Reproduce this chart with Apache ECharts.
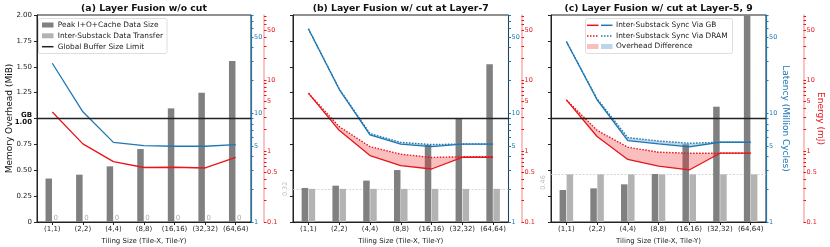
<!DOCTYPE html>
<html><head><meta charset="utf-8">
<script src="https://cdn.jsdelivr.net/npm/echarts@6.0.0/dist/echarts.min.js"></script>
<style>html,body{margin:0;padding:0;background:#fff}#c{width:830px;height:247px}</style>
</head><body><div id="c"></div>
<script>
const categories = ['(1,1)','(2,2)','(4,4)','(8,8)','(16,16)','(32,32)','(64,64)'];
const titles = ['(a) Layer Fusion w/o cut','(b) Layer Fusion w/ cut at Layer-7','(c) Layer Fusion w/ cut at Layer-5, 9'];

// Panel (a)
const peakA = [0.42, 0.457, 0.538, 0.705, 1.098, 1.249, 1.556];
const transferA = [0, 0, 0, 0, 0, 0, 0];
const latencyA = [28.8, 10.3, 5.4, 5.03, 4.97, 4.97, 5.14];
const energyA = [3.54, 1.26, 0.707, 0.585, 0.59, 0.576, 0.815];

// Panel (b)
const peakB = [0.329, 0.351, 0.40, 0.502, 0.744, 1.005, 1.524];
const transferB = [0.32, 0.32, 0.32, 0.32, 0.32, 0.32, 0.32];
const latencyGbB = [59.7, 16.6, 6.31, 5.19, 4.93, 5.21, 5.21];
const latencyDramB = [59.7, 16.8, 6.5, 5.4, 5.15, 5.21, 5.21];
const energyGbB = [6.5, 1.95, 0.86, 0.62, 0.557, 0.815, 0.815];
const energyDramB = [6.5, 2.2, 1.15, 0.9, 0.81, 0.83, 0.83];

// Panel (c)
const peakC = [0.309, 0.325, 0.364, 0.464, 0.75, 1.114, 2.3];
const transferC = [0.46, 0.46, 0.46, 0.46, 0.46, 0.46, 0.46];
const latencyGbC = [45.6, 13.3, 5.6, 5.22, 4.9, 5.41, 5.41];
const latencyDramC = [45.6, 13.6, 5.97, 5.56, 5.3, 5.41, 5.41];
const energyGbC = [5.23, 1.6, 0.76, 0.61, 0.54, 0.93, 0.93];
const energyDramC = [5.23, 1.95, 1.13, 0.96, 0.93, 0.93, 0.93];

// axis ticks / labels
const memLimit = 1.0;
const latencyLabels = [1, 5, 10, 50];
const latencyTicks = [1,2,3,4,5,6,7,8,9,10,20,30,40,50,60,70,80];
const energyLabels = [0.1, 0.5, 1, 5, 10, 50];
const energyTicks = [0.1,0.2,0.3,0.4,0.5,0.6,0.7,0.8,0.9,1,2,3,4,5,6,7,8,9,10,20,30,40,50,60,70,80];

const BLUE = '#1f77b4', RED = '#e8151b', DARK = '#808080', LIGHT = '#b3b3b3';
const FONT = 'DejaVu Sans';

const grids = [
  {left: 37, top: 15, width: 214, height: 207},
  {left: 293, top: 15, width: 215.5, height: 207},
  {left: 551, top: 15, width: 215, height: 207}
];

const xAxes = [], yAxes = [], series = [];
const refLines = [null, 0.32, 0.46];
const refLabelPad = [null, [0, 0, 0, 0], [0, 16, 0, 0]];
const panels = [
  {peak: peakA, transfer: transferA, latGb: latencyA, enGb: energyA},
  {peak: peakB, transfer: transferB, latGb: latencyGbB, latDram: latencyDramB, enGb: energyGbB, enDram: energyDramB},
  {peak: peakC, transfer: transferC, latGb: latencyGbC, latDram: latencyDramC, enGb: energyGbC, enDram: energyDramC}
];

function fillSeries(gi, yi, low, high, color) {
  return {
    type: 'custom', xAxisIndex: gi, yAxisIndex: yi, z: 3, silent: true,
    data: categories.map((c, k) => [k, low[k], high[k]]),
    encode: {x: 0, y: [1, 2]},
    renderItem: (params, api) => {
      if (params.dataIndex !== 0) return;
      const top = high.map((v, k) => api.coord([k, v]));
      const bot = low.map((v, k) => api.coord([k, v])).reverse();
      return {type: 'polygon', shape: {points: top.concat(bot)}, style: {fill: color}};
    }
  };
}

for (let i = 0; i < 3; i++) {
  const p = panels[i];
  xAxes.push({
    type: 'category', gridIndex: i, data: categories,
    axisLine: {show: true, lineStyle: {color: '#222', width: 1}},
    axisTick: {show: true, alignWithLabel: true, length: 3, lineStyle: {color: '#222'}},
    axisLabel: {fontSize: 7, color: '#222', margin: 3.5, interval: 0, fontFamily: FONT},
    name: 'Tiling Size (Tile-X, Tile-Y)', nameLocation: 'middle', nameGap: 12.5,
    nameTextStyle: {fontSize: 7, color: '#222', fontFamily: FONT},
    splitLine: {show: false}
  });
  const memLabel = i === 0 ? {
    fontSize: 7, color: '#222', margin: 5, fontFamily: FONT,
    formatter: v => v === 1 ? '{gb|GB}\n{n|1.00}' : (v === 0 ? '0' : v.toFixed(2)),
    rich: {gb: {fontWeight: 'bold', fontSize: 7, lineHeight: 7, fontFamily: FONT, color: '#111'},
           n: {fontWeight: 'bold', fontSize: 7, lineHeight: 7, fontFamily: FONT, color: '#111'}}
  } : {
    customValues: [refLines[i]], rotate: 90, color: '#bbbbbb', fontSize: 6.5, margin: 4, fontFamily: FONT,
    padding: refLabelPad[i],
    formatter: v => v.toFixed(2)
  };
  yAxes.push({
    type: 'value', gridIndex: i, position: 'left', min: 0, max: 2, interval: 0.25,
    axisLine: {show: true, lineStyle: {color: '#222', width: 1}},
    axisTick: {show: true, length: 3, lineStyle: {color: '#222'}},
    splitLine: {show: false}, axisLabel: memLabel,
    name: i === 0 ? 'Memory Overhead (MiB)' : '', nameLocation: 'middle', nameGap: 22.5,
    nameMoveOverlap: false,
    nameTextStyle: {fontSize: 9, color: '#111', fontFamily: FONT}
  });
  yAxes.push({
    type: 'log', logBase: 10, gridIndex: i, position: 'right', min: 1, max: 80, offset: 0,
    axisLine: {show: true, lineStyle: {color: i === 1 ? 'rgba(31,119,180,0.4)' : BLUE, width: 1.2}},
    axisTick: {show: true, customValues: latencyTicks, length: 2.5, lineStyle: {color: BLUE}},
    axisLabel: {customValues: latencyLabels, color: BLUE, fontSize: 6.5, margin: 3, fontFamily: FONT, formatter: v => String(v)},
    minorTick: {show: false}, splitLine: {show: false},
    name: i === 2 ? 'Latency (Million Cycles)' : '', nameLocation: 'middle', nameRotate: -90, nameGap: 14.5,
    nameMoveOverlap: false,
    nameTextStyle: {fontSize: 9, color: BLUE, fontFamily: FONT}
  });
  yAxes.push({
    type: 'log', logBase: 10, gridIndex: i, position: 'right', min: 0.1, max: 82, offset: i === 2 ? 37.5 : 13,
    axisLine: {show: true, lineStyle: {color: 'rgba(232,21,27,0.35)', width: 1.5}},
    axisTick: {show: true, customValues: energyTicks, length: 2.5, lineStyle: {color: RED}},
    axisLabel: {customValues: energyLabels, color: RED, fontSize: 6.5, margin: 3, fontFamily: FONT, formatter: v => String(v)},
    minorTick: {show: false}, splitLine: {show: false},
    name: i === 2 ? 'Energy (mJ)' : '', nameLocation: 'middle', nameRotate: -90, nameGap: 12.5,
    nameMoveOverlap: false,
    nameTextStyle: {fontSize: 9, color: RED, fontFamily: FONT}
  });

  const yi = 3 * i;
  series.push({
    type: 'bar', name: 'Peak I+O+Cache Data Size', xAxisIndex: i, yAxisIndex: yi, data: p.peak,
    barWidth: 6.5, barGap: '8%', z: 2, itemStyle: {color: DARK}, clip: true, silent: true,
    markLine: {silent: true, symbol: ['none', 'none'], label: {show: false}, z: 5,
      lineStyle: {color: '#222', width: 1.3, type: 'solid'}, data: [{yAxis: memLimit}]}
  });
  const tr = {
    type: 'bar', name: 'Inter-Substack Data Transfer', xAxisIndex: i, yAxisIndex: yi, data: p.transfer,
    barWidth: 6.5, z: 2, itemStyle: {color: LIGHT}, silent: true
  };
  if (i === 0) {
    tr.label = {show: true, position: 'top', distance: 0.5, color: '#aaaaaa', fontSize: 7, fontFamily: FONT};
  } else {
    tr.markLine = {silent: true, symbol: ['none', 'none'], label: {show: false}, z: 1,
      lineStyle: {color: '#cccccc', width: 0.8, type: [2, 1.5]}, data: [{yAxis: refLines[i]}]};
  }
  series.push(tr);

  if (p.latDram) {
    series.push(fillSeries(i, yi + 1, p.latGb, p.latDram, 'rgba(31,119,180,0.3)'));
    series.push(fillSeries(i, yi + 2, p.enGb, p.enDram, 'rgba(240,40,40,0.3)'));
  }
  series.push({type: 'line', xAxisIndex: i, yAxisIndex: yi + 1, data: p.latGb, symbol: 'none', z: 4, silent: true,
    lineStyle: {color: BLUE, width: 1.3}});
  series.push({type: 'line', xAxisIndex: i, yAxisIndex: yi + 2, data: p.enGb, symbol: 'none', z: 4, silent: true,
    lineStyle: {color: RED, width: 1.3}});
  if (p.latDram) {
    series.push({type: 'line', xAxisIndex: i, yAxisIndex: yi + 1, data: p.latDram, symbol: 'none', z: 4, silent: true,
      lineStyle: {color: BLUE, width: 1.4, type: [1.5, 1.5]}});
    series.push({type: 'line', xAxisIndex: i, yAxisIndex: yi + 2, data: p.enDram, symbol: 'none', z: 4, silent: true,
      lineStyle: {color: RED, width: 1.4, type: [1.5, 1.5]}});
  }
}

function txt(x, y, s, opts) {
  return Object.assign({type: 'text', x: x, y: y, z: 20, silent: true,
    style: Object.assign({text: s, fontSize: 7.4, fontFamily: FONT, fill: '#222', verticalAlign: 'middle', align: 'left'}, opts || {})});
}
const graphic = [];
const titleX = [144, 400.7, 658.5];
titles.forEach((t, i) => graphic.push(txt(titleX[i], 8.5, t, {fontSize: 9.3, fontWeight: 'bold', align: 'center', fill: '#111'})));
// legend (a)
graphic.push({type: 'rect', z: 18, silent: true, shape: {x: 38.5, y: 18.5, width: 128.5, height: 35, r: 2},
  style: {fill: 'rgba(255,255,255,0.85)', stroke: '#d6d6d6', lineWidth: 0.8}});
graphic.push({type: 'rect', z: 20, silent: true, shape: {x: 42, y: 22.5, width: 11.5, height: 5}, style: {fill: DARK}});
graphic.push(txt(57.7, 25.2, 'Peak I+O+Cache Data Size'));
graphic.push({type: 'rect', z: 20, silent: true, shape: {x: 42, y: 33.3, width: 11.5, height: 5}, style: {fill: LIGHT}});
graphic.push(txt(57.7, 36, 'Inter-Substack Data Transfer'));
graphic.push({type: 'line', z: 20, silent: true, shape: {x1: 42, y1: 46.7, x2: 53.5, y2: 46.7}, style: {stroke: '#222', lineWidth: 1.5}});
graphic.push(txt(57.7, 46.8, 'Global Buffer Size Limit'));
// legend (c)
graphic.push({type: 'rect', z: 18, silent: true, shape: {x: 585.5, y: 18.5, width: 147, height: 35, r: 2},
  style: {fill: 'rgba(255,255,255,0.85)', stroke: '#d6d6d6', lineWidth: 0.8}});
graphic.push({type: 'line', z: 20, silent: true, shape: {x1: 587, y1: 25.3, x2: 598.5, y2: 25.3}, style: {stroke: RED, lineWidth: 1.5}});
graphic.push({type: 'line', z: 20, silent: true, shape: {x1: 601, y1: 25.3, x2: 612.5, y2: 25.3}, style: {stroke: BLUE, lineWidth: 1.5}});
graphic.push(txt(616, 25.3, 'Inter-Substack Sync Via GB'));
graphic.push({type: 'line', z: 20, silent: true, shape: {x1: 587, y1: 36, x2: 598.5, y2: 36}, style: {stroke: RED, lineWidth: 1.5, lineDash: [1.5, 1.5]}});
graphic.push({type: 'line', z: 20, silent: true, shape: {x1: 601, y1: 36, x2: 612.5, y2: 36}, style: {stroke: BLUE, lineWidth: 1.5, lineDash: [1.5, 1.5]}});
graphic.push(txt(616, 36, 'Inter-Substack Sync Via DRAM'));
graphic.push({type: 'rect', z: 20, silent: true, shape: {x: 587, y: 44, width: 11.5, height: 5}, style: {fill: 'rgba(240,40,40,0.3)'}});
graphic.push({type: 'rect', z: 20, silent: true, shape: {x: 601, y: 44, width: 11.5, height: 5}, style: {fill: 'rgba(31,119,180,0.3)'}});
graphic.push(txt(616, 46.5, 'Overhead Difference'));

const chart = echarts.init(document.getElementById('c'), null, {renderer: 'canvas'});
chart.setOption({
  animation: false,
  backgroundColor: '#fff',
  textStyle: {fontFamily: FONT},
  grid: grids.map(g => Object.assign({show: true, borderColor: '#222', borderWidth: 1, backgroundColor: 'transparent', containLabel: false, outerBoundsMode: 'none'}, g)),
  xAxis: xAxes,
  yAxis: yAxes,
  series: series,
  graphic: graphic
});
</script>
</body></html>
